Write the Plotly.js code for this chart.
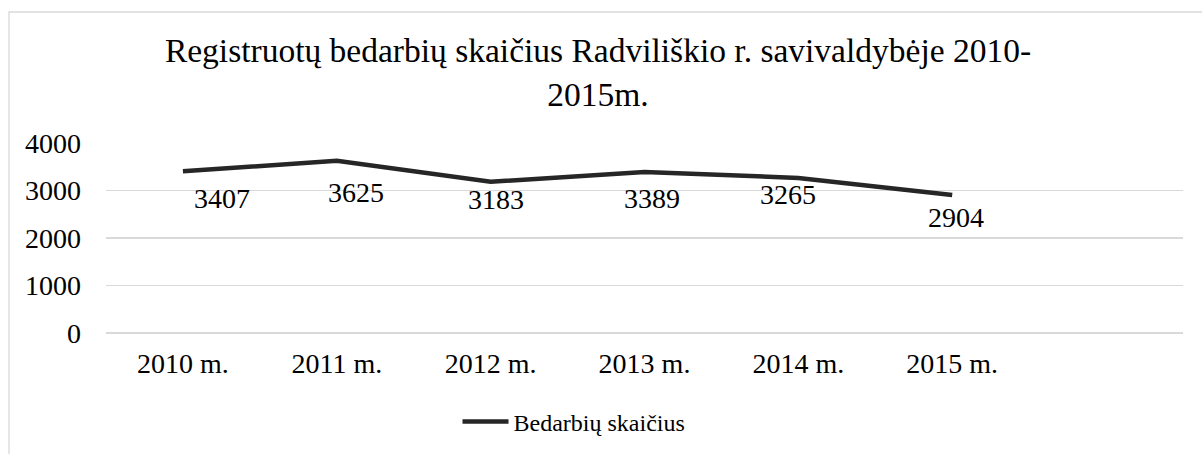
<!DOCTYPE html>
<html>
<head>
<meta charset="utf-8">
<script src="https://cdn.plot.ly/plotly-3.0.1.min.js"></script>
<style>html,body{margin:0;padding:0;background:#fff;}#chart{width:1202px;height:454px;}</style>
</head>
<body>
<div id="chart"></div>
<script>
const categories = ["2010 m.", "2011 m.", "2012 m.", "2013 m.", "2014 m.", "2015 m.", " "];
const years = ["2010 m.", "2011 m.", "2012 m.", "2013 m.", "2014 m.", "2015 m."];
const values = [3407, 3625, 3183, 3389, 3265, 2904];
const seriesName = "Bedarbių skaičius";
const titleText = "Registruotų bedarbių skaičius Radviliškio r. savivaldybėje 2010-<br>2015m.";
const yTicks = [0, 1000, 2000, 3000, 4000];
// label pixel offsets (x, y) relative to each point
const labelDx = [39, 19, 5, 7, -10, 4];
const labelDy = [-27, -32, -18, -26, -17, -22];

const FONT = "'Liberation Serif', 'Times New Roman', serif";

const trace = {
  x: years,
  y: values,
  type: "scatter",
  mode: "lines",
  name: seriesName,
  line: {color: "#262626", width: 4.5, shape: "linear"},
  hoverinfo: "x+y"
};

const annotations = years.map((c, i) => ({
  x: c, y: values[i], xref: "x", yref: "y",
  text: String(values[i]), showarrow: false,
  xshift: labelDx[i], yshift: labelDy[i],
  font: {family: FONT, size: 28, color: "#000"}
}));

const L = 106, R = 1183, T = 143, B = 333, W = 1202, H = 454;
const pw = R - L, ph = B - T;

const layout = {
  width: W, height: H,
  margin: {l: L, r: W - R, t: T, b: H - B, pad: 0},
  paper_bgcolor: "#fff", plot_bgcolor: "#fff",
  font: {family: FONT, size: 28, color: "#000"},
  title: {
    text: titleText,
    font: {family: FONT, size: 33.5, color: "#000"},
    xref: "container", yref: "container",
    x: 598 / W, xanchor: "center",
    y: 1 - 62 / H, yanchor: "middle"
  },
  xaxis: {
    type: "category",
    categoryorder: "array", categoryarray: categories,
    range: [-0.5, 6.5],
    showgrid: false, zeroline: false, showline: false,
    ticks: "", tickfont: {family: FONT, size: 28, color: "#000"},
    ticklabelstandoff: 11,
    tickvals: years, ticktext: years,
    fixedrange: true
  },
  yaxis: {
    range: [0, 4000],
    tickvals: yTicks, ticktext: yTicks.map(String),
    showgrid: true, gridcolor: "#d9d9d9", gridwidth: 1.3,
    zeroline: true, zerolinecolor: "#d9d9d9", zerolinewidth: 1.3,
    showline: false, ticks: "",
    tickfont: {family: FONT, size: 28, color: "#000"},
    ticklabelstandoff: 24,
    fixedrange: true
  },
  showlegend: true,
  legend: {
    orientation: "h",
    xref: "container", yref: "container",
    x: 574 / W, xanchor: "center",
    y: 1 - 422 / H, yanchor: "middle",
    itemwidth: 46,
    font: {family: FONT, size: 24, color: "#000"},
    bgcolor: "rgba(0,0,0,0)"
  },
  annotations: annotations,
  shapes: [{
    type: "rect", xref: "paper", yref: "paper", layer: "below",
    x0: (9 - L) / pw, x1: (1240 - L) / pw,
    y0: (B - 500) / ph, y1: (B - 12) / ph,
    line: {color: "#d9d9d9", width: 1.3}, fillcolor: "rgba(0,0,0,0)"
  }]
};

Plotly.newPlot("chart", [trace], layout, {displayModeBar: false, staticPlot: true});
</script>
</body>
</html>
